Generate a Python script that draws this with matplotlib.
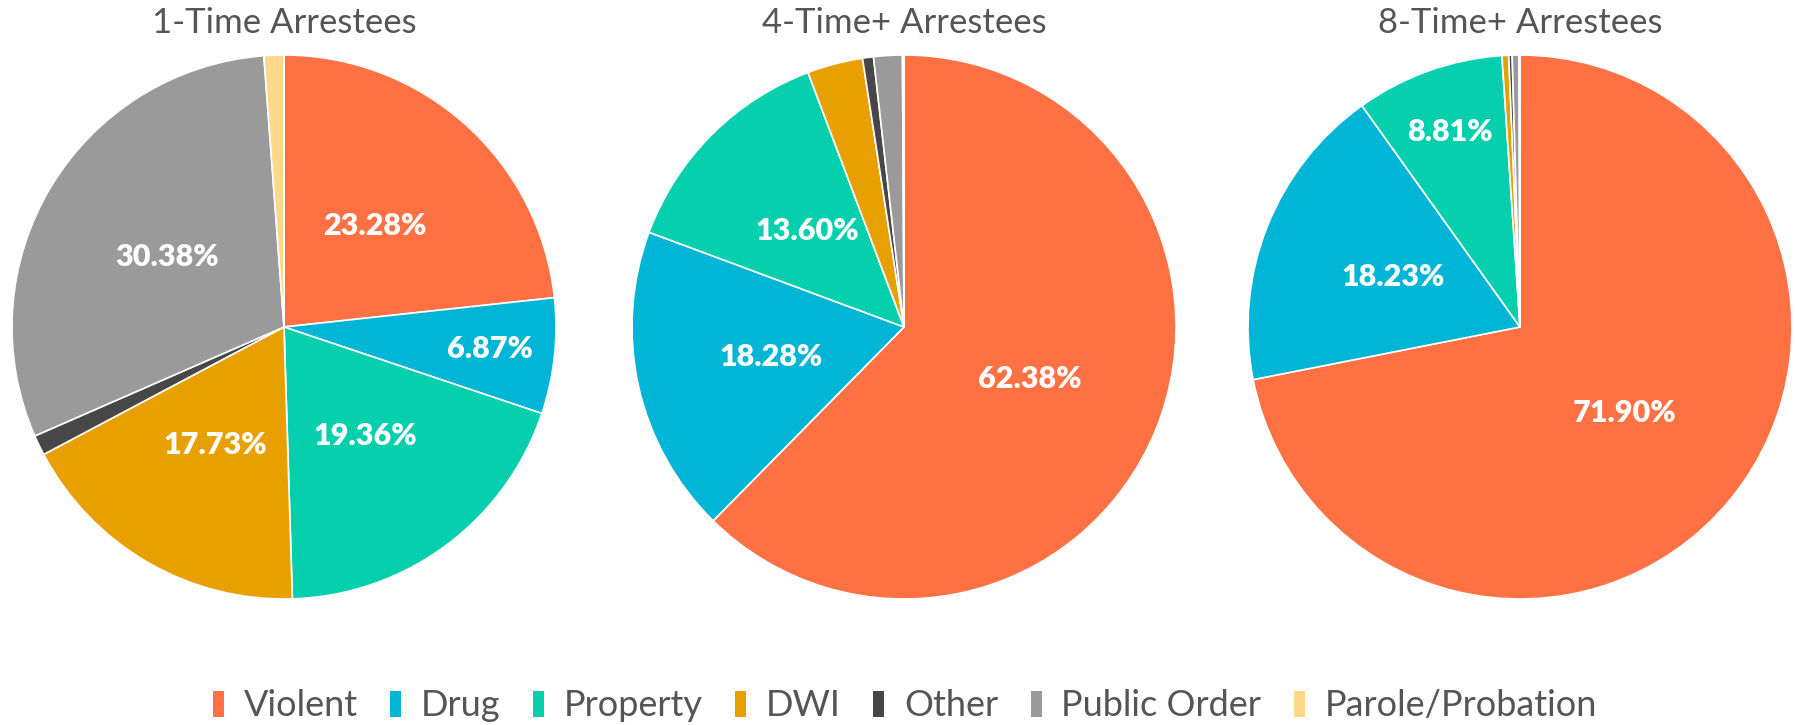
import matplotlib
matplotlib.use("Agg")
import matplotlib.pyplot as plt
from matplotlib.patches import Patch
import numpy as np

plt.rcParams['font.family'] = ['Lato', 'DejaVu Sans']

categories = ["Violent", "Drug", "Property", "DWI", "Other", "Public Order", "Parole/Probation"]
colors = ["#FF7043", "#00B5D5", "#06CFAE", "#E8A000", "#474747", "#9A9A9A", "#FFD98A"]

titles = ["1-Time Arrestees", "4-Time+ Arrestees", "8-Time+ Arrestees"]
one_time = [23.28, 6.87, 19.36, 17.73, 1.20, 30.38, 1.18]
four_time = [62.38, 18.28, 13.60, 3.30, 0.65, 1.70, 0.09]
eight_time = [71.90, 18.23, 8.81, 0.40, 0.20, 0.40, 0.06]
series = [one_time, four_time, eight_time]

W, H = 1796, 725
fig = plt.figure(figsize=(W / 100, H / 100), dpi=100)

centers_x = [284, 904, 1520]
cy = 327
R = 272

for cx, title, vals in zip(centers_x, titles, series):
    ax = fig.add_axes([(cx - R) / W, (H - cy - R) / H, 2 * R / W, 2 * R / H])
    wedges, _ = ax.pie(vals, colors=colors, startangle=90, counterclock=False,
                       radius=1, wedgeprops=dict(edgecolor="white", linewidth=1.2))
    total = sum(vals)
    start = 90.0
    for v in vals:
        ang = v / total * 360
        mid = np.deg2rad(start - ang / 2)
        start -= ang
        if v < 5:
            continue
        d = 0.5 if v >= 10 else 0.76
        ax.text(d * np.cos(mid), d * np.sin(mid), f"{v:.2f}%", ha="center", va="center",
                color="white", fontsize=22, fontweight="heavy")
    ax.set_xlim(-1, 1)
    ax.set_ylim(-1, 1)
    ax.set_aspect("equal")
    ax.axis("off")
    fig.text(cx / W, 1 - 23 / H, title, ha="center", va="center", fontsize=25, color="#555555")

handles = [Patch(facecolor=c, edgecolor="none") for c in colors]
fig.legend(handles, categories, loc="center", bbox_to_anchor=(905 / W, 1 - 706 / H), ncol=7,
           frameon=False, fontsize=26, labelcolor="#555555", handlelength=0.3, handleheight=0.75,
           handletextpad=0.55, columnspacing=0.9)

fig.savefig("out.png", dpi=100, facecolor="white")
